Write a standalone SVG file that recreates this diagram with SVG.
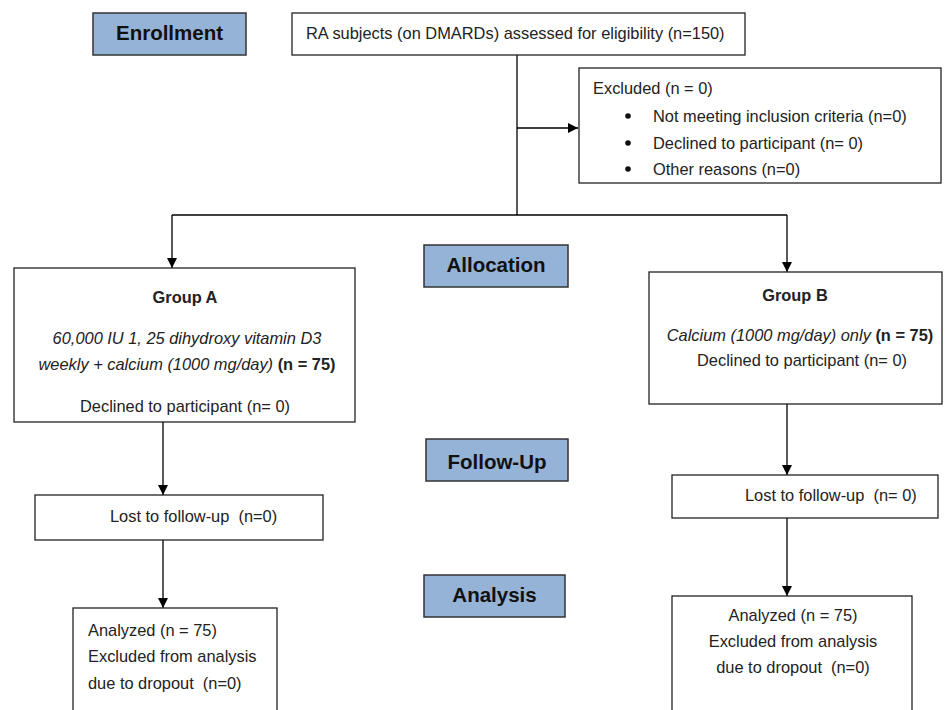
<svg xmlns="http://www.w3.org/2000/svg" width="945" height="710" viewBox="0 0 945 710">
<defs>
<marker id="ah" viewBox="0 0 10 10" refX="10" refY="5" markerWidth="10" markerHeight="10" markerUnits="userSpaceOnUse" orient="auto">
<path d="M0,0 L10,5 L0,10 z" fill="#000"/>
</marker>
<style>
.stage{fill:#95b3d7;stroke:#333;stroke-width:1.5}
.box{fill:#fff;stroke:#222;stroke-width:1.3}
.st{font-family:"Liberation Sans",Arial,sans-serif;font-weight:bold;font-size:20.5px;fill:#111;text-anchor:middle}
.t{font-family:"Liberation Sans",Arial,sans-serif;font-size:16.4px;fill:#222;white-space:pre}
.c{text-anchor:middle}
.b{font-weight:bold}
.i{font-style:italic}
.ln{stroke:#000;stroke-width:1.3;fill:none}
</style>
</defs>
<rect width="945" height="710" fill="#fff"/>

<g id="connectors">
<line class="ln" x1="517" y1="55" x2="517" y2="215"/>
<line class="ln" x1="517" y1="128" x2="578" y2="128" marker-end="url(#ah)"/>
<line class="ln" x1="172" y1="215" x2="787" y2="215"/>
<line class="ln" x1="172" y1="215" x2="172" y2="268" marker-end="url(#ah)"/>
<line class="ln" x1="787" y1="215" x2="787" y2="272" marker-end="url(#ah)"/>
<line class="ln" x1="163" y1="422" x2="163" y2="495" marker-end="url(#ah)"/>
<line class="ln" x1="163" y1="540" x2="163" y2="608" marker-end="url(#ah)"/>
<line class="ln" x1="787" y1="404" x2="787" y2="475" marker-end="url(#ah)"/>
<line class="ln" x1="787" y1="518" x2="787" y2="596" marker-end="url(#ah)"/>
</g>

<g id="enrollment">
<rect class="stage" x="93" y="13" width="153" height="42"/>
<text class="st" x="169.5" y="40">Enrollment</text>
</g>
<g id="allocation">
<rect class="stage" x="424" y="245" width="144" height="42"/>
<text class="st" x="496" y="272">Allocation</text>
</g>
<g id="followup">
<rect class="stage" x="426" y="439" width="142" height="42"/>
<text class="st" x="497" y="469">Follow-Up</text>
</g>
<g id="analysis">
<rect class="stage" x="424" y="575" width="141" height="42"/>
<text class="st" x="494.5" y="602">Analysis</text>
</g>

<g id="assessed">
<rect class="box" x="292" y="13" width="453" height="42"/>
<text class="t" x="306" y="39">RA subjects (on DMARDs) assessed for eligibility (n=150)</text>
</g>

<g id="excluded">
<rect class="box" x="579" y="68" width="362" height="115"/>
<text class="t" x="593" y="94">Excluded (n = 0)</text>
<circle cx="628" cy="116" r="2.8" fill="#111"/>
<circle cx="628" cy="143" r="2.8" fill="#111"/>
<circle cx="628" cy="169" r="2.8" fill="#111"/>
<text class="t" x="653" y="122">Not meeting inclusion criteria (n=0)</text>
<text class="t" x="653" y="149">Declined to participant (n= 0)</text>
<text class="t" x="653" y="175">Other reasons (n=0)</text>
</g>

<g id="groupA">
<rect class="box" x="14" y="268" width="341" height="154"/>
<text class="t c b" x="185" y="303">Group A</text>
<text class="t c i" x="187" y="344">60,000 IU 1, 25 dihydroxy vitamin D3</text>
<text class="t c" x="187" y="370"><tspan class="i">weekly + calcium (1000 mg/day)</tspan> <tspan class="b">(n = 75)</tspan></text>
<text class="t c" x="185" y="412">Declined to participant (n= 0)</text>
</g>

<g id="groupB">
<rect class="box" x="649" y="272" width="293" height="132"/>
<text class="t c b" x="795" y="301">Group B</text>
<text class="t c" x="800" y="341"><tspan class="i">Calcium (1000 mg/day) only</tspan> <tspan class="b">(n = 75)</tspan></text>
<text class="t c" x="802" y="366">Declined to participant (n= 0)</text>
</g>

<g id="lostA">
<rect class="box" x="35" y="495" width="288" height="45"/>
<text class="t" x="110" y="522" xml:space="preserve">Lost to follow-up  (n=0)</text>
</g>

<g id="lostB">
<rect class="box" x="672" y="475" width="266" height="43"/>
<text class="t" x="745" y="501" xml:space="preserve">Lost to follow-up  (n= 0)</text>
</g>

<g id="analyzedA">
<rect class="box" x="73" y="608" width="204" height="110"/>
<text class="t" x="88" y="636">Analyzed (n = 75)</text>
<text class="t" x="88" y="662">Excluded from analysis</text>
<text class="t" x="88" y="689" xml:space="preserve">due to dropout  (n=0)</text>
</g>

<g id="analyzedB">
<rect class="box" x="672" y="596" width="240" height="122"/>
<text class="t c" x="793" y="621">Analyzed (n = 75)</text>
<text class="t c" x="793" y="647">Excluded from analysis</text>
<text class="t c" x="793" y="673" xml:space="preserve">due to dropout  (n=0)</text>
</g>
</svg>
